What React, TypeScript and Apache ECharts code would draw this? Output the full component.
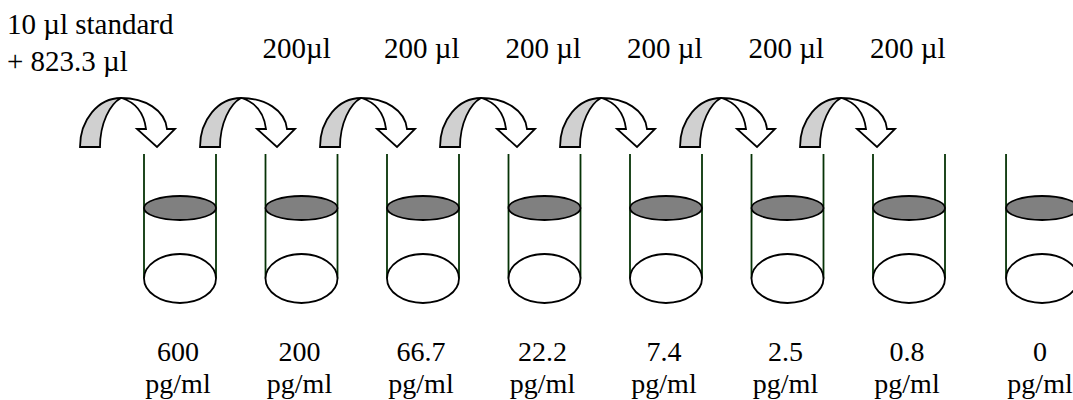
import React, { useEffect, useRef } from "react";
import * as echarts from "echarts";

// ---- data ----
const concentrations = ["600", "200", "66.7", "22.2", "7.4", "2.5", "0.8", "0"];
const concentrationUnit = "pg/ml";
const transferVolumes = [
  "10 µl standard\n+ 823.3 µl",
  "200µl",
  "200 µl",
  "200 µl",
  "200 µl",
  "200 µl",
  "200 µl",
];
const blankConcentration = "0";

// ---- layout / style constants ----
const W = 1073;
const H = 400;
const FIRST_TUBE_PX = 180;
const TUBE_PITCH_PX = 121.5;
const BLANK_GAP = 0.095; // extra spacing (in tube units) before the blank tube
const ARROW_PITCH = 120 / 121.5; // arrows are spaced slightly tighter than tubes

const L = {
  tubeHalfW: 36,
  tubeTop: 154,
  tubeLineEnd: 278.5,
  liquidY: 208,
  liquidRy: 12,
  baseY: 278.5,
  baseRy: 24.5,
  valueY: 351,
  unitY: 383.5,
  arrowTop: 98,
  arrowDx: -100,
  volY: 47.5,
  volDx: -39,
  firstLabelDx: -173,
  firstLabelY: 24,
  firstLabelLH: 37,
};

const FONT = "Liberation Serif, DejaVu Serif, serif";
const GREEN = "#063306";
const GRAY_BACK = "#d0d0d0";
const LIQUID = "#808080";

const GRAY_D = "M0 49 C0 22 18 0 41 0 C30 6 20 25 20 49 Z";
const WHITE_D =
  "M41 0 C65 0 85 12 87 31 L95 31 L77 49 L57 31 L66 31 C64 15 55 4 41 0 Z";

const xMin = -FIRST_TUBE_PX / TUBE_PITCH_PX;
const xMax = (W - FIRST_TUBE_PX) / TUBE_PITCH_PX;

export default function App() {
  const ref = useRef<HTMLDivElement>(null);

  useEffect(() => {
    document.body.style.margin = "0";
    if (!ref.current) return;
    const chart = echarts.init(ref.current, null, { renderer: "svg" });

    const tubeData = concentrations.map((c, i) => [
      i + (c === blankConcentration ? BLANK_GAP : 0),
      0,
    ]);
    const arrowData = transferVolumes.map((_, i) => [i * ARROW_PITCH, i]);

    const txt = (text: string, x: number, y: number, size: number, align: string) => ({
      type: "text",
      x,
      y,
      style: {
        text,
        fill: "#000",
        fontSize: size,
        fontFamily: FONT,
        align,
        verticalAlign: "middle",
      },
    });

    const option: any = {
      animation: false,
      textStyle: { fontFamily: FONT },
      grid: { left: 0, right: 0, top: 0, bottom: 0 },
      xAxis: { type: "value", min: xMin, max: xMax, show: false },
      yAxis: { type: "value", min: 0, max: H, inverse: true, show: false },
      series: [
        {
          type: "custom",
          coordinateSystem: "cartesian2d",
          clip: false,
          silent: true,
          data: tubeData,
          renderItem: (params: any, api: any) => {
            const [cx] = api.coord([api.value(0), 0]);
            const yy = (v: number) => api.coord([0, v])[1];
            const idx = params.dataIndex;
            const lx = cx - L.tubeHalfW;
            const rx = cx + L.tubeHalfW;
            const lineStyle = { stroke: GREEN, lineWidth: 1.8 };
            return {
              type: "group",
              children: [
                {
                  type: "line",
                  shape: { x1: lx, y1: yy(L.tubeTop), x2: lx, y2: yy(L.tubeLineEnd) },
                  style: lineStyle,
                },
                {
                  type: "line",
                  shape: { x1: rx, y1: yy(L.tubeTop), x2: rx, y2: yy(L.tubeLineEnd) },
                  style: lineStyle,
                },
                {
                  type: "ellipse",
                  shape: { cx, cy: yy(L.liquidY), rx: L.tubeHalfW, ry: L.liquidRy },
                  style: { fill: LIQUID, stroke: "#000", lineWidth: 1.8 },
                },
                {
                  type: "ellipse",
                  shape: { cx, cy: yy(L.baseY), rx: L.tubeHalfW, ry: L.baseRy },
                  style: { fill: "#fff", stroke: "#000", lineWidth: 1.8 },
                },
                txt(concentrations[idx], cx - 2, yy(L.valueY), 28, "center"),
                txt(concentrationUnit, cx - 2, yy(L.unitY), 28, "center"),
              ],
            };
          },
        },
        {
          type: "custom",
          coordinateSystem: "cartesian2d",
          clip: false,
          silent: true,
          data: arrowData,
          renderItem: (params: any, api: any) => {
            const idx = params.dataIndex;
            const [ax0] = api.coord([api.value(0), 0]);
            const [tubeCx] = api.coord([idx, 0]);
            const yy = (v: number) => api.coord([0, v])[1];
            const ax = ax0 + L.arrowDx;
            const ay = yy(L.arrowTop);
            const children: any[] = [
              {
                type: "path",
                x: ax,
                y: ay,
                shape: { pathData: GRAY_D },
                style: { fill: GRAY_BACK, stroke: "#000", lineWidth: 1.8, lineJoin: "miter" },
              },
              {
                type: "path",
                x: ax,
                y: ay,
                shape: { pathData: WHITE_D },
                style: { fill: "#fff", stroke: "#000", lineWidth: 1.8, lineJoin: "miter" },
              },
            ];
            const label = transferVolumes[idx];
            if (idx === 0) {
              label.split("\n").forEach((line, k) => {
                children.push(
                  txt(
                    line,
                    tubeCx + L.firstLabelDx,
                    yy(L.firstLabelY + k * L.firstLabelLH),
                    29,
                    "left"
                  )
                );
              });
            } else {
              children.push(txt(label, tubeCx + L.volDx, yy(L.volY), 29, "left"));
            }
            return { type: "group", children };
          },
        },
      ],
    };

    chart.setOption(option);
    return () => chart.dispose();
  }, []);

  return <div ref={ref} style={{ width: W, height: H }} />;
}
